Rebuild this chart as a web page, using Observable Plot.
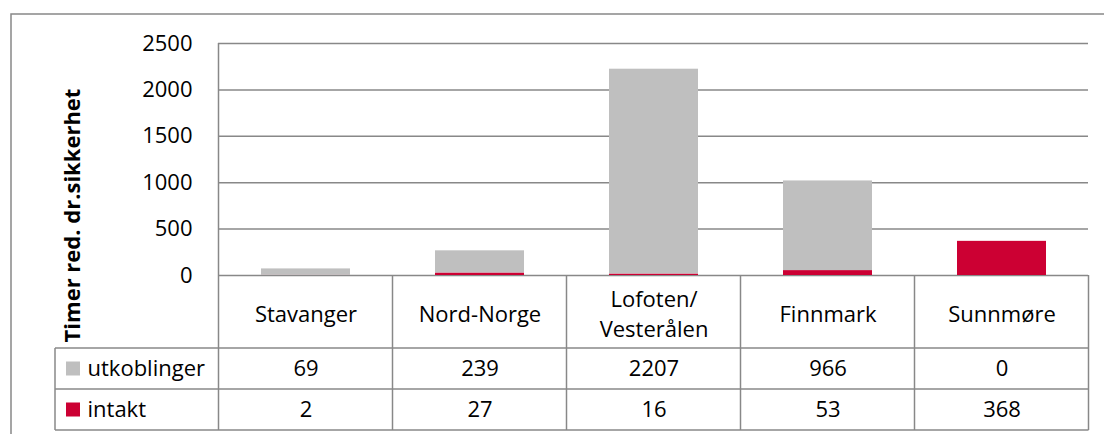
<!DOCTYPE html>
<html><head><meta charset="utf-8">
<script src="https://cdn.jsdelivr.net/npm/d3@7"></script>
<script src="https://cdn.jsdelivr.net/npm/@observablehq/plot@0.6"></script>
<style>
html,body{margin:0;padding:0;background:#fff}
#chart svg{display:block}
</style>
</head><body><div id="chart"></div>
<script>
const regions = ["Stavanger", "Nord-Norge", "Lofoten/\nVesterålen", "Finnmark", "Sunnmøre"];
const utkoblinger = [69, 239, 2207, 966, 0];
const intakt = [2, 27, 16, 53, 368];
const seriesNames = ["utkoblinger", "intakt"];
const seriesColors = ["#BFBFBF", "#CC0033"];
const yTicks = [0, 500, 1000, 1500, 2000, 2500];
const yLabel = "Timer red. dr.sikkerhet";

const data = [
  ...regions.map((r, i) => ({region: r, series: "intakt", value: intakt[i]})),
  ...regions.map((r, i) => ({region: r, series: "utkoblinger", value: utkoblinger[i]}))
];

const FONT = "'Open Sans', sans-serif";
const LINE = "#888888";
const CAT_H = 73, ROW_H = 41, LEGEND_LEFT = 55;

function tableMark(index, scales, values, dims) {
  const x = scales.x;
  const bw = typeof x.bandwidth === "function" ? x.bandwidth() : (x.bandwidth || 0);
  const step = x(regions[1]) - x(regions[0]);
  const edges = regions.map(r => x(r) + bw / 2 - step / 2);
  edges.push(edges[edges.length - 1] + step);
  const left = edges[0], right = edges[edges.length - 1];
  const base = dims.height - dims.marginBottom;
  const top = dims.marginTop;
  const r1 = base + CAT_H, r2 = r1 + ROW_H, r3 = r2 + ROW_H;
  const g = d3.create("svg:g");
  const lines = g.append("g").attr("stroke", LINE).attr("stroke-width", 1.5).attr("fill", "none");
  const line = (x1, y1, x2, y2) => lines.append("line").attr("x1", x1).attr("y1", y1).attr("x2", x2).attr("y2", y2);
  lines.append("rect").attr("x", 11).attr("y", 14).attr("width", dims.width + 40).attr("height", dims.height + 40);
  line(left, top, left, r3);
  for (let i = 1; i < edges.length; i++) line(edges[i], base, edges[i], r3);
  line(LEGEND_LEFT, r1, LEGEND_LEFT, r3);
  for (const yy of [r1, r2, r3]) line(LEGEND_LEFT, yy, right, yy);
  seriesNames.forEach((s, i) => {
    const cy = r1 + ROW_H * i + ROW_H / 2;
    g.append("rect").attr("x", 66).attr("y", cy - 7).attr("width", 14).attr("height", 14)
      .attr("fill", scales.color ? scales.color(s) : seriesColors[i]);
  });
  return g.node();
}

const txt = {fontSize: 22, fill: "#000", lineAnchor: "middle"};

const chart = Plot.plot({
  width: 1104,
  height: 434,
  marginLeft: 218,
  marginRight: 16,
  marginTop: 43,
  marginBottom: 159,
  style: {fontFamily: FONT, fontSize: "22px", color: "#000", background: "#fff"},
  x: {domain: regions, paddingInner: 0.49, paddingOuter: 0.245, axis: null},
  y: {domain: [0, 2500], ticks: yTicks, tickSize: 0, tickPadding: 26, label: null, tickFormat: d => String(d)},
  color: {domain: seriesNames, range: seriesColors},
  marks: [
    Plot.ruleY(yTicks, {stroke: LINE, strokeWidth: 1.5}),
    Plot.barY(data, {x: "region", y: "value", fill: "series"}),
    tableMark,
    Plot.text(regions, {...txt, x: d => d, frameAnchor: "bottom", textAnchor: "middle", dy: CAT_H / 2, lineHeight: 1.36}),
    Plot.text(regions, {...txt, x: d => d, text: (d, i) => String(utkoblinger[i]), frameAnchor: "bottom", textAnchor: "middle", dy: CAT_H + ROW_H / 2}),
    Plot.text(regions, {...txt, x: d => d, text: (d, i) => String(intakt[i]), frameAnchor: "bottom", textAnchor: "middle", dy: CAT_H + ROW_H * 1.5}),
    Plot.text([seriesNames[0]], {...txt, frameAnchor: "bottom-left", dx: -131, dy: CAT_H + ROW_H / 2, textAnchor: "start"}),
    Plot.text([seriesNames[1]], {...txt, frameAnchor: "bottom-left", dx: -131, dy: CAT_H + ROW_H * 1.5, textAnchor: "start"}),
    Plot.text([yLabel], {frameAnchor: "left", dx: -146, dy: 56, rotate: -90, textAnchor: "middle", lineAnchor: "middle", fontSize: 22, fontWeight: "bold", fill: "#000"})
  ]
});
document.getElementById("chart").appendChild(chart);
</script>
</body></html>
